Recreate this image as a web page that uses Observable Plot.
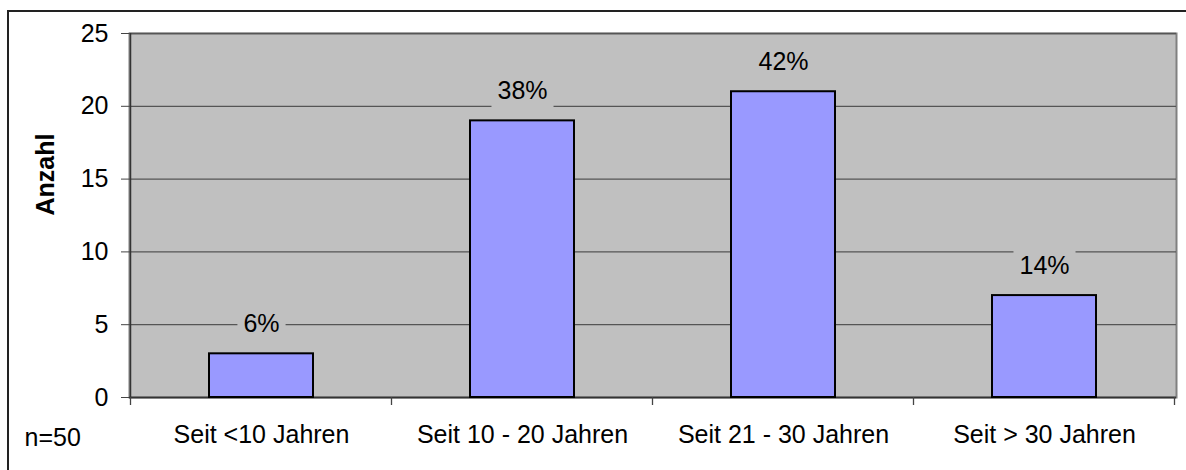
<!DOCTYPE html>
<html><head><meta charset="utf-8">
<script src="https://cdn.jsdelivr.net/npm/d3@7"></script>
<script src="https://cdn.jsdelivr.net/npm/@observablehq/plot@0.6"></script>
<style>
body{margin:0;background:#fff;}
#wrap{position:relative;width:1186px;height:470px;overflow:hidden;font-family:"Liberation Sans",Arial,sans-serif;}
#wrap svg{position:absolute;left:0;top:0;}
#frame{position:absolute;left:7px;top:10px;width:1200px;height:500px;border-left:2px solid #222;border-top:2px solid #222;pointer-events:none;}
</style></head><body><div id="wrap"><div id="frame"></div></div>
<script>
const categories = ["Seit <10 Jahren", "Seit 10 - 20 Jahren", "Seit 21 - 30 Jahren", "Seit > 30 Jahren"];
const counts = [3, 19, 21, 7];
const percentLabels = ["6%", "38%", "42%", "14%"];
const yTicks = [0, 5, 10, 15, 20, 25];
const yLabel = "Anzahl";
const note = "n=50";

const data = categories.map((c, i) => ({category: c, count: counts[i], pct: percentLabels[i]}));

const plot = Plot.plot({
  width: 1186,
  height: 470,
  marginLeft: 129,
  marginRight: 10,
  marginTop: 33,
  marginBottom: 73,
  style: {fontFamily: '"Liberation Sans", Arial, sans-serif', fontSize: "25px", color: "#000", background: "transparent", overflow: "visible"},
  x: {domain: categories, paddingInner: 0.6, paddingOuter: 0.3},
  y: {domain: [0, 25]},
  marks: [
    Plot.frame({fill: "#C0C0C0", stroke: "#808080", strokeWidth: 2}),
    Plot.ruleY(yTicks, {stroke: "#555", strokeWidth: 1.3}),
    Plot.ruleY([0], {stroke: "#333", strokeWidth: 1.5}),
    Plot.barY(data, {x: "category", y: "count", fill: "#9999FF", stroke: "#000", strokeWidth: 2}),
    Plot.text(data, {x: "category", y: "count", text: "pct", dy: -30, fill: "#000", fontSize: 25, lineAnchor: "middle"}),
    Plot.axisY(yTicks, {tickSize: 8, tickPadding: 13, fontSize: 25, label: null, stroke: "#444"}),
    Plot.axisX({tickSize: 0, tickPadding: 28, fontSize: 25, label: null}),
    Plot.text([yLabel], {frameAnchor: "left", rotate: -90, dx: -84, fontWeight: "bold", fontSize: 25, lineAnchor: "middle"}),
    Plot.text([note], {frameAnchor: "bottom-left", textAnchor: "start", dx: -105, dy: 40, fontSize: 25, lineAnchor: "middle"})
  ]
});

document.getElementById("wrap").appendChild(plot);

// left axis line and category boundary ticks, positioned through Plot's x and y scales
const xs = plot.scale("x");
const ys = plot.scale("y");
const half = (xs.step - xs.bandwidth) / 2;
const bounds = categories.map(c => xs.apply(c) - half);
bounds.push(xs.apply(categories[categories.length - 1]) + xs.bandwidth + half);
const y0 = ys.apply(0), yTop = ys.apply(25);
const svg = d3.select(plot);
svg.append("line").attr("x1", bounds[0]).attr("x2", bounds[0]).attr("y1", yTop).attr("y2", y0)
  .attr("stroke", "#333").attr("stroke-width", 1.5);
svg.append("g").selectAll("line").data(bounds).join("line")
  .attr("x1", d => d).attr("x2", d => d).attr("y1", y0).attr("y2", y0 + 8)
  .attr("stroke", "#444").attr("stroke-width", 1.3);

// grey label boxes behind the percentage labels (from the rendered text extents)
const svgRect = plot.getBoundingClientRect();
const labelTexts = Array.from(plot.querySelectorAll("text")).filter(t => percentLabels.includes(t.textContent));
if (labelTexts.length) {
  const group = labelTexts[0].parentNode;
  const boxG = document.createElementNS("http://www.w3.org/2000/svg", "g");
  group.parentNode.insertBefore(boxG, group);
  labelTexts.forEach(t => {
    const r = t.getBoundingClientRect();
    const rect = document.createElementNS("http://www.w3.org/2000/svg", "rect");
    rect.setAttribute("x", r.left - svgRect.left - 6);
    rect.setAttribute("y", r.top - svgRect.top - 1);
    rect.setAttribute("width", r.width + 12);
    rect.setAttribute("height", r.height + 6);
    rect.setAttribute("fill", "#C0C0C0");
    boxG.appendChild(rect);
  });
}
</script>
</body></html>
